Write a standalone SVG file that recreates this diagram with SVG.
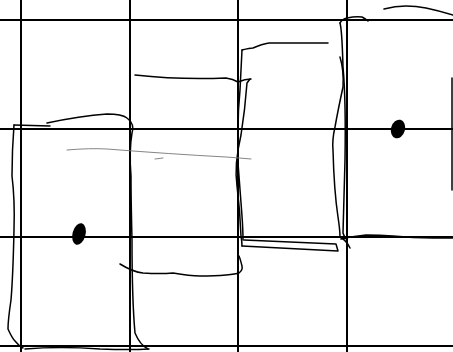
<svg xmlns="http://www.w3.org/2000/svg" width="453" height="352" viewBox="0 0 453 352">
<style>
.grid{stroke:#000;stroke-width:2;fill:none}
.s{stroke:#000;stroke-width:1.5;fill:none;stroke-linecap:round;stroke-linejoin:round}
.t{stroke:#777;stroke-width:0.9;fill:none;stroke-linecap:round}
</style>
<rect width="453" height="352" fill="#fff"/>
<g id="grid" class="grid">
<line x1="21" y1="0" x2="21" y2="352"/>
<line x1="130" y1="0" x2="130" y2="352"/>
<line x1="238" y1="0" x2="238" y2="352"/>
<line x1="347" y1="0" x2="347" y2="352"/>
<line x1="0" y1="20" x2="453" y2="20"/>
<line x1="0" y1="129" x2="453" y2="129"/>
<line x1="0" y1="237" x2="453" y2="237"/>
<line x1="0" y1="346" x2="453" y2="346"/>
</g>
<g id="rect1" class="s">
<path d="M14,125 L50,126"/>
<path d="M47,123 Q80,116 107,114 Q122,114 127,118 Q135,124 132,133 Q129,150 131,176 Q131,200 132,240 Q132,300 135,333 Q140,345 148,349"/>
<path d="M14,125 Q12,150 12,176 Q15,200 14,230 Q13,276 11,300 Q8,320 8,329 Q12,338 15,341 Q19,346 23,348"/>
<path d="M25,349 Q60,346 100,349 Q130,350 149,349"/>
</g>
<g id="rect2" class="s">
<path d="M135,75 Q180,80 226,78 Q233,79 238,82"/>
<path d="M238,82 Q245,79 251,79"/>
<path d="M120,264 Q133,272 143,273 Q160,274 173,273 Q190,276 200,276 Q215,276 226,275 Q236,274 239,273 Q243,270 242,266 Q240,258 239,256"/>
</g>
<g id="rect3" class="s">
<path d="M242,50 Q250,48 253,48 Q262,44 269,43 L328,43"/>
<path d="M242,50 Q241,70 240,90 Q238,110 238,130 Q238,150 238,163 Q240,190 242,216 Q243,230 243,240"/>
<path d="M250,79 L247,83 Q245,110 241,135 Q234,165 237,186 Q240,210 241,236 Q242,242 242,246"/>
<path d="M242,246 L338,251 L336,244 L244,240"/>
<path d="M340,23 Q342,19 347,18 Q356,16 362,17 Q366,19 368,21"/>
<path d="M340,23 Q342,30 343,67 Q346,100 345,160 Q344,200 343,233 Q344,237 347,240"/>
<path d="M340,57 Q344,70 343,87 Q338,110 335,127 Q332,140 333,150 Q334,190 338,217 Q340,230 340,237 Q346,240 350,248"/>
</g>
<g id="rect4" class="s">
<path d="M341,239 Q355,236 366,235 Q380,235 393,236 Q413,238 433,238 L453,238"/>
<path d="M384,9 Q395,6 406,6 Q416,6 426,8 Q440,11 453,15"/>
<path d="M452,78 L452,190"/>
</g>
<g id="guide">
<path class="t" d="M67,150 Q90,148 107,149 Q170,154 226,157 Q240,158 251,159"/>
<path class="t" d="M155,159 L163,158"/>
</g>
<g id="dots" fill="#000">
<ellipse cx="398" cy="129" rx="7" ry="9.5" transform="rotate(15 398 129)"/>
<ellipse cx="79" cy="234" rx="6.5" ry="11" transform="rotate(15 79 234)"/>
</g>
</svg>
